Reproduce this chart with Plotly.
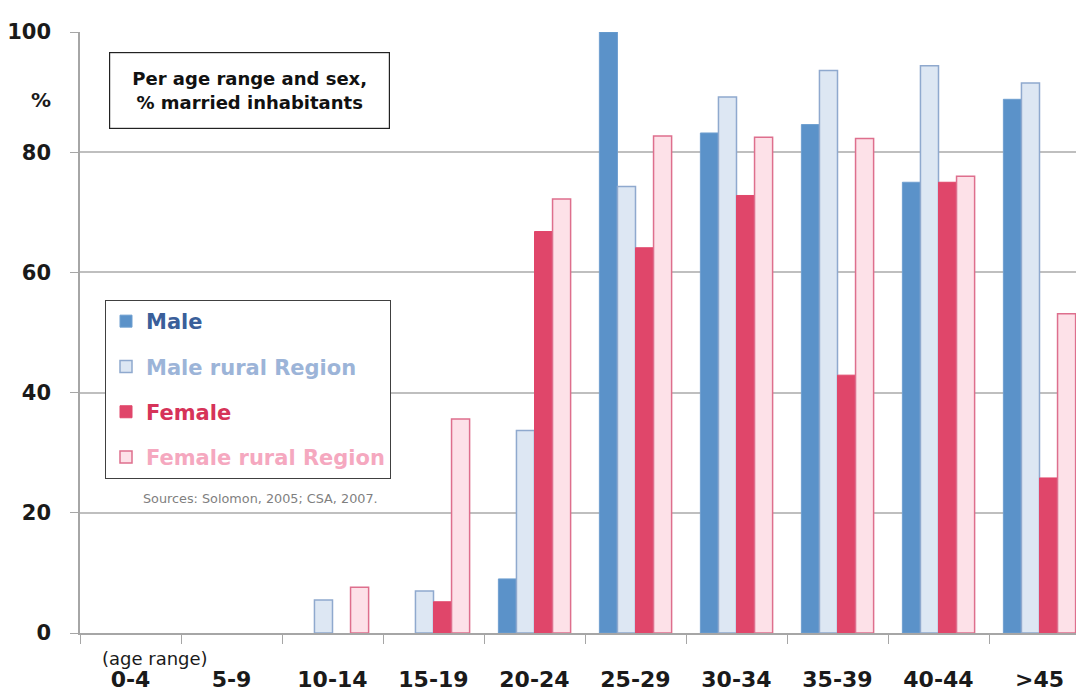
import plotly.graph_objects as go

categories = ["0-4", "5-9", "10-14", "15-19", "20-24", "25-29", "30-34", "35-39", "40-44", ">45"]
male = [None, None, None, None, 9.0, 100, 83.2, 84.6, 75.0, 88.8]
male_rural = [None, None, 5.5, 7.0, 33.7, 74.3, 89.2, 93.6, 94.4, 91.5]
female = [None, None, None, 5.2, 66.8, 64.1, 72.8, 42.9, 75.0, 25.8]
female_rural = [None, None, 7.6, 35.6, 72.2, 82.7, 82.5, 82.3, 76.0, 53.1]
y_ticks = [0, 20, 40, 60, 80, 100]

# page body has an 8px margin; positions below are measured in screen pixels
OFF = 8
W, H = 1084, 695
ML, MR, MT, MB = 80 - OFF, 0, 32 - OFF, 695 - (633 - OFF)
PW, PH = W - ML - MR, H - MT - MB
CAT_W = 101.0

def px(x):
    return (x - OFF - ML) / PW

def py(y):
    return (H - MB - (y - OFF)) / PH

FONT = "DejaVu Sans"

series = [
    ("Male", male, "#5B92C9", "#6F9FD0", 1, "#3A5F9A"),
    ("Male rural Region", male_rural, "#DDE7F3", "#8FA9CE", 1.5, "#9CB4D8"),
    ("Female", female, "#E0466A", "#E0466A", 1, "#D63359"),
    ("Female rural Region", female_rural, "#FDE1E8", "#DE6F8D", 1.5, "#F5A8BF"),
]

fig = go.Figure()
for i, (name, vals, fill, line, lw, tcol) in enumerate(series):
    fig.add_trace(go.Bar(
        x=categories, y=vals,
        name=f"<span style='color:{tcol}'><b>{name}</b></span>",
        marker=dict(color=fill, line=dict(color=line, width=lw)),
        legendgroup=f"g{i}",
    ))

fig.update_layout(
    width=W, height=H,
    margin=dict(l=ML, r=MR, t=MT, b=MB, pad=0),
    paper_bgcolor="white", plot_bgcolor="white",
    barmode="group", bargap=0.285, bargroupgap=0,
    font=dict(family=FONT, color="#1a1a1a"),
    showlegend=True,
    legend=dict(
        x=px(105), y=py(300), xanchor="left", yanchor="top",
        bordercolor="#404040", borderwidth=1, bgcolor="white",
        font=dict(family=FONT, size=21),
        traceorder="grouped", tracegroupgap=15,
        itemclick=False,
    ),
    xaxis=dict(
        type="category", range=[-0.5, -0.5 + PW / CAT_W],
        showline=True, linecolor="#A6A6A6", linewidth=1.5,
        ticks="outside", tickson="boundaries", ticklen=9, tickcolor="#A6A6A6", tickwidth=1,
        showgrid=False,
        tickfont=dict(family=FONT, size=22, color="#1a1a1a", weight="bold"),
        ticklabelstandoff=26,
    ),
    yaxis=dict(
        range=[0, 100], tickvals=y_ticks,
        showline=True, linecolor="#A6A6A6", linewidth=1.5,
        ticks="outside", ticklen=8, tickcolor="#A6A6A6",
        showgrid=True, gridcolor="#BFBFBF", gridwidth=1.5,
        zeroline=False,
        tickfont=dict(family=FONT, size=21, color="#1a1a1a", weight="bold"),
        ticklabelstandoff=15,
    ),
)

fig.add_shape(type="line", xref="paper", yref="paper",
              x0=px(0), x1=px(1084), y0=py(7), y1=py(7),
              line=dict(color="#BFBFBF", width=2), layer="below")

fig.add_annotation(
    x=px(249.5), y=py(90.5), xref="paper", yref="paper",
    xanchor="center", yanchor="middle",
    text="<b>Per age range and sex,<br>% married inhabitants</b>",
    showarrow=False, align="center",
    font=dict(family=FONT, size=18, color="#111111"),
    bordercolor="#222222", borderwidth=1.2, borderpad=4, bgcolor="white",
    width=271, height=67,
)

fig.add_annotation(
    x=px(41), y=py(100), xref="paper", yref="paper",
    xanchor="center", yanchor="middle",
    text="<b>%</b>", showarrow=False,
    font=dict(family=FONT, size=20, color="#1a1a1a"),
)

fig.add_annotation(
    x=px(155), y=py(658), xref="paper", yref="paper",
    xanchor="center", yanchor="middle",
    text="(age range)", showarrow=False,
    font=dict(family=FONT, size=18, color="#1a1a1a"),
)

fig.add_annotation(
    x=px(260), y=py(498), xref="paper", yref="paper",
    xanchor="center", yanchor="middle",
    text="Sources: Solomon, 2005; CSA, 2007.", showarrow=False,
    font=dict(family=FONT, size=12.8, color="#7f7f7f"),
)

fig.write_html("out.html")
